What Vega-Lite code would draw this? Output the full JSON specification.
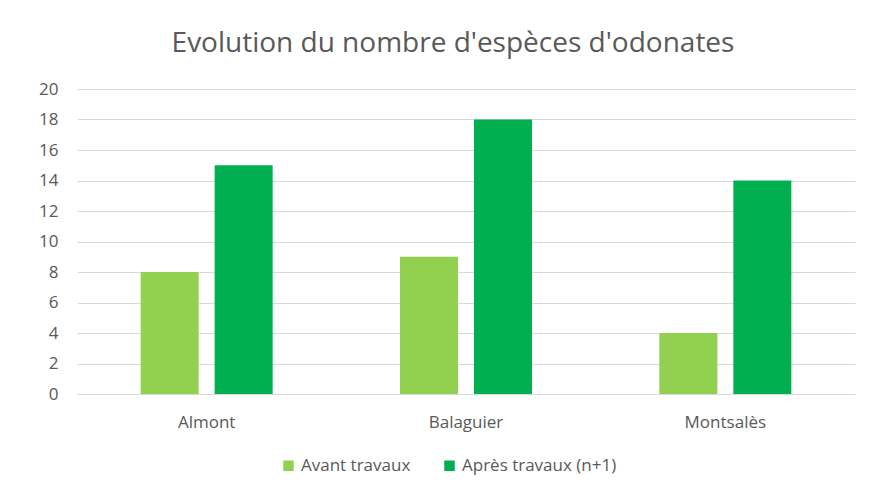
{
  "$schema": "https://vega.github.io/schema/vega-lite/v6.json",
  "width": 778,
  "height": 305,
  "autosize": {"type": "none"},
  "padding": {"left": 77, "top": 89, "right": 19, "bottom": 103},
  "background": "#ffffff",
  "title": {
    "text": "Evolution du nombre d'espèces d'odonates",
    "font": "Open Sans",
    "fontSize": 28,
    "fontWeight": "normal",
    "color": "#595959",
    "anchor": "middle",
    "dx": -13,
    "offset": 22
  },
  "data": {
    "values": [
      {"site": "Almont", "periode": "Avant travaux", "especes": 8},
      {"site": "Almont", "periode": "Après travaux (n+1)", "especes": 15},
      {"site": "Balaguier", "periode": "Avant travaux", "especes": 9},
      {"site": "Balaguier", "periode": "Après travaux (n+1)", "especes": 18},
      {"site": "Montsalès", "periode": "Avant travaux", "especes": 4},
      {"site": "Montsalès", "periode": "Après travaux (n+1)", "especes": 14}
    ]
  },
  "mark": {"type": "bar"},
  "encoding": {
    "x": {
      "field": "site",
      "type": "nominal",
      "sort": ["Almont", "Balaguier", "Montsalès"],
      "scale": {"paddingInner": 0.491, "paddingOuter": 0.2455},
      "axis": {
        "title": null,
        "labelAngle": 0,
        "ticks": false,
        "domain": true,
        "domainColor": "#d9d9d9",
        "domainWidth": 1,
        "labelFont": "Open Sans",
        "labelFontSize": 17,
        "labelColor": "#595959",
        "labelPadding": 20
      }
    },
    "xOffset": {
      "field": "periode",
      "type": "nominal",
      "sort": ["Avant travaux", "Après travaux (n+1)"],
      "scale": {"paddingInner": 0.216, "paddingOuter": 0}
    },
    "y": {
      "field": "especes",
      "type": "quantitative",
      "scale": {"domain": [0, 20], "nice": false},
      "axis": {
        "title": null,
        "values": [0, 2, 4, 6, 8, 10, 12, 14, 16, 18, 20],
        "ticks": false,
        "domain": false,
        "grid": true,
        "gridColor": "#d9d9d9",
        "gridWidth": 1,
        "labelFont": "Open Sans",
        "labelFontSize": 17,
        "labelColor": "#595959",
        "labelPadding": 19
      }
    },
    "color": {
      "field": "periode",
      "type": "nominal",
      "sort": ["Avant travaux", "Après travaux (n+1)"],
      "scale": {"domain": ["Avant travaux", "Après travaux (n+1)"], "range": ["#92d050", "#00b050"]},
      "legend": {
        "title": null,
        "orient": "none",
        "legendX": 203,
        "legendY": 368,
        "direction": "horizontal",
        "symbolType": "square",
        "symbolSize": 110,
        "symbolStrokeWidth": 0,
        "symbolOffset": 0,
        "labelOffset": 4,
        "labelFont": "Open Sans",
        "labelFontSize": 17,
        "labelColor": "#595959",
        "columnPadding": 30
      }
    }
  },
  "config": {"view": {"stroke": null}}
}
